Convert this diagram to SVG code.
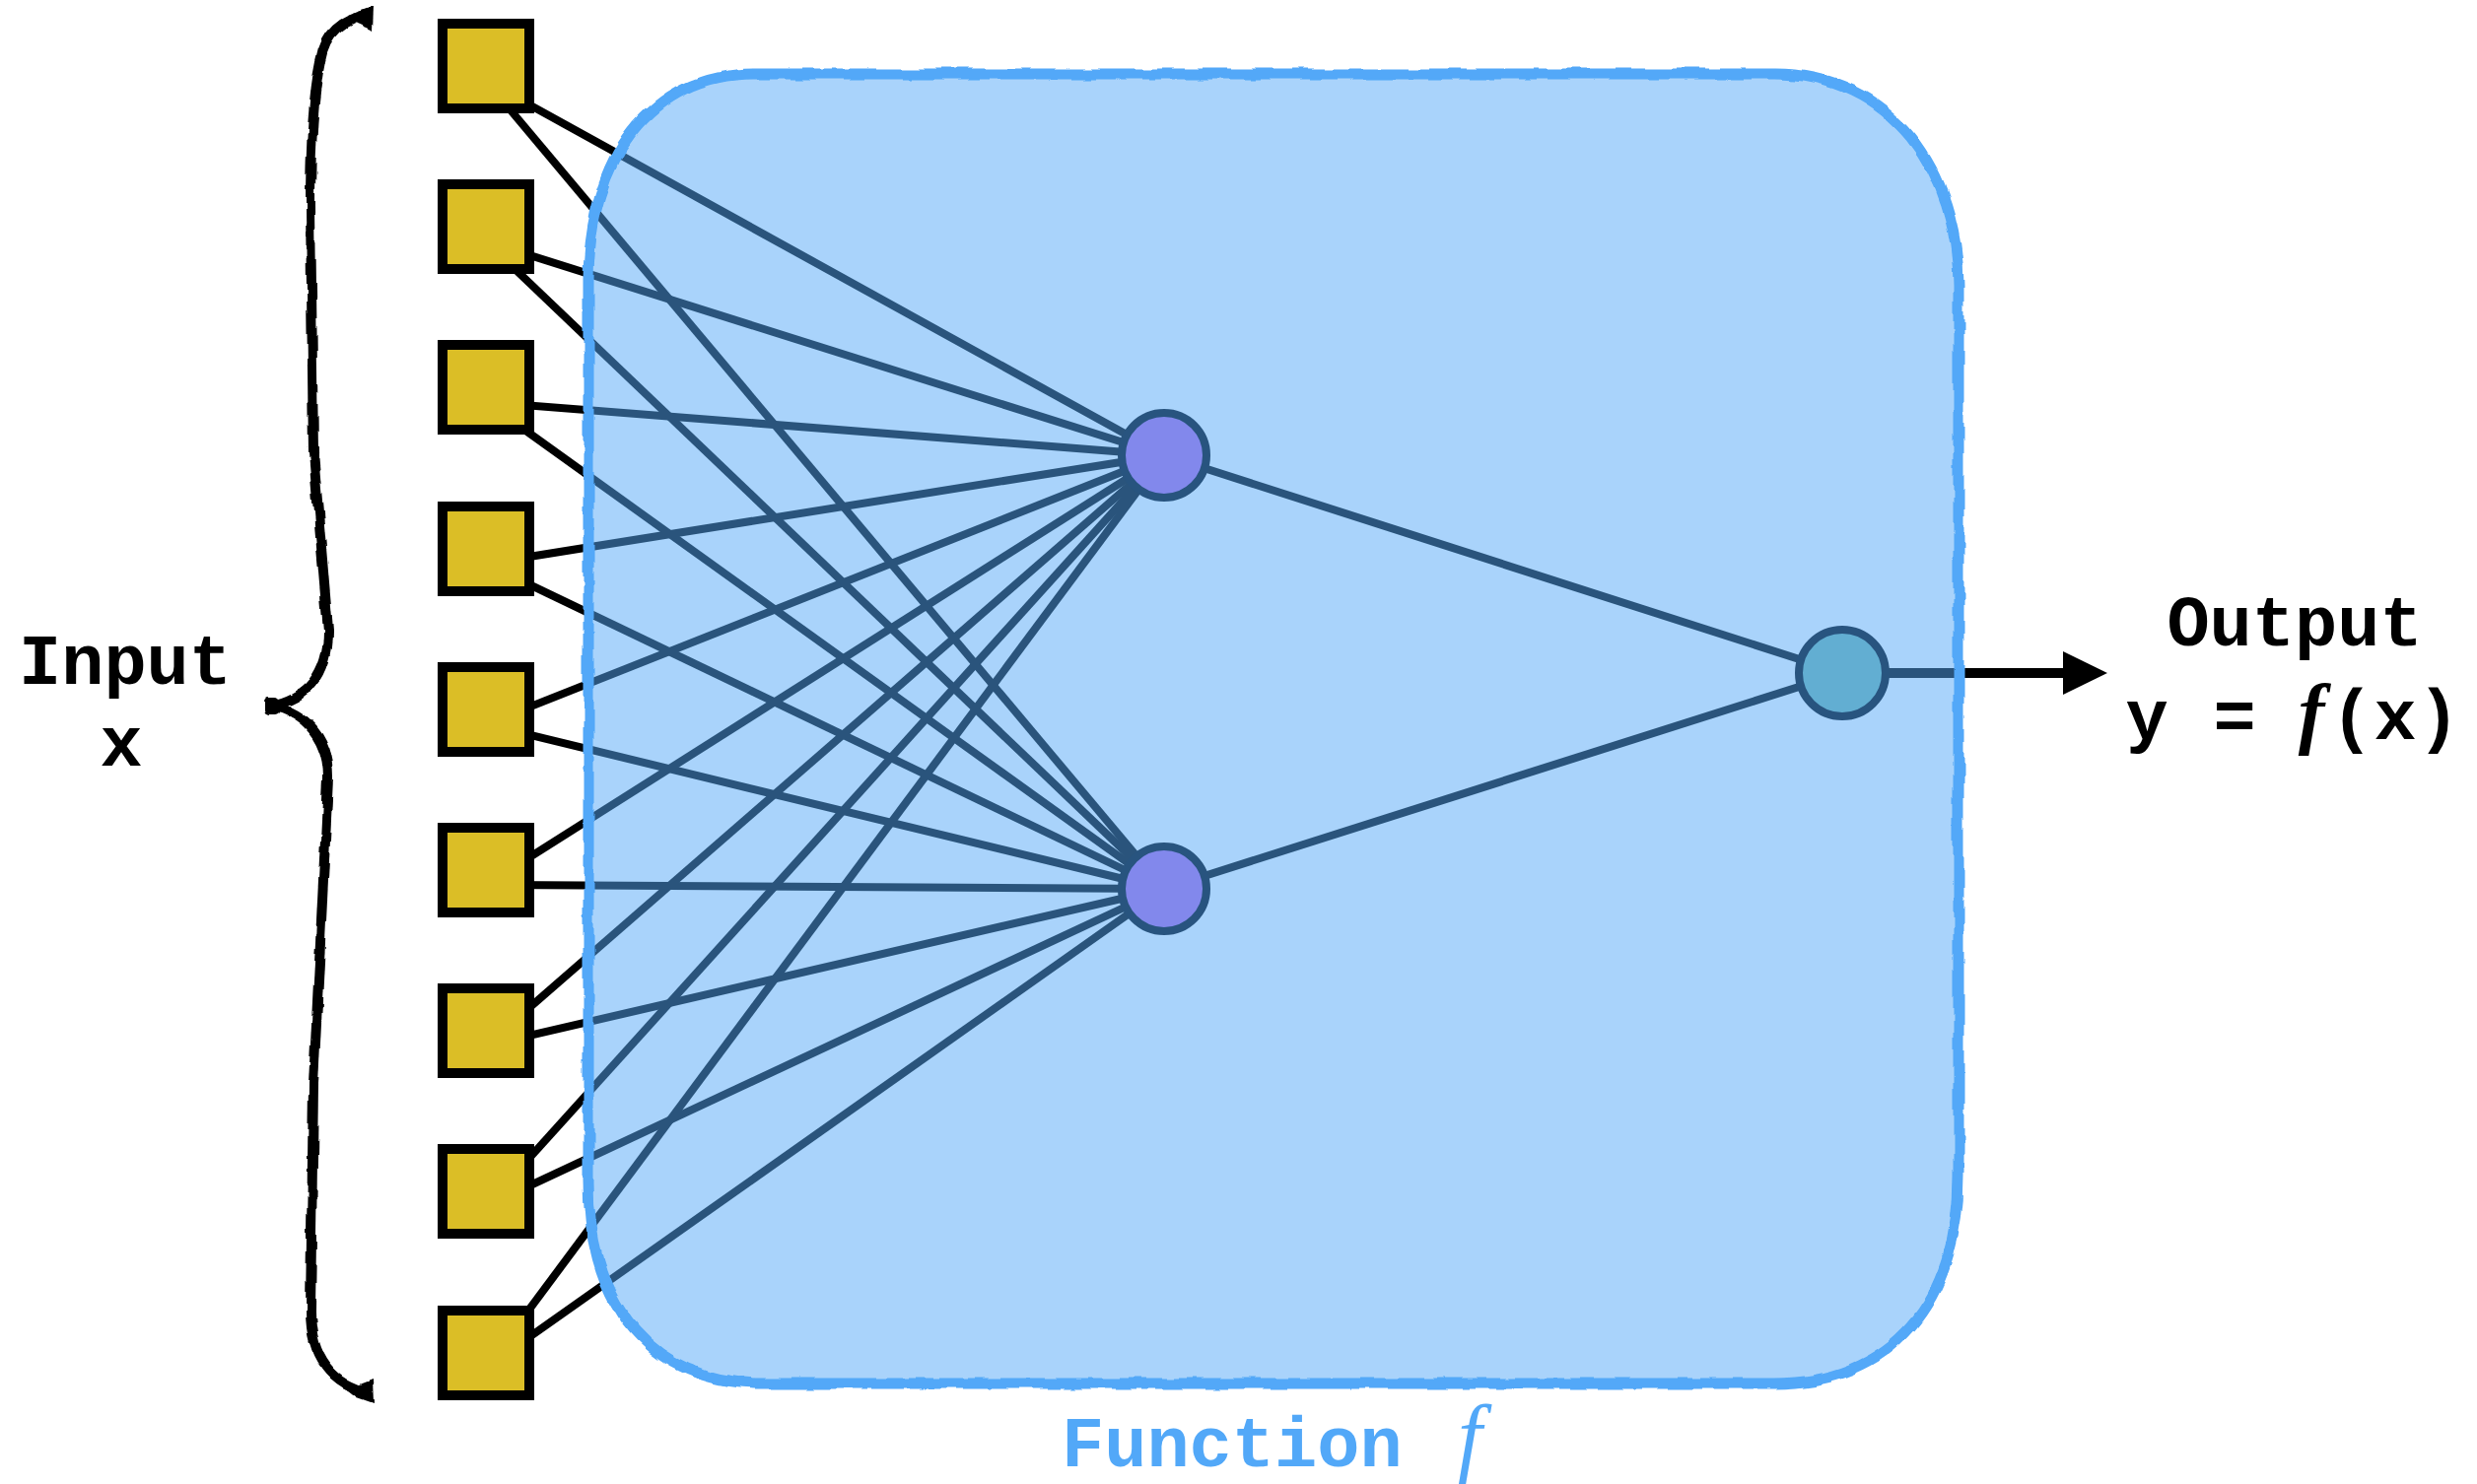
<svg xmlns="http://www.w3.org/2000/svg" width="2513" height="1506" viewBox="0 0 2513 1506">
  <defs>
    <style>
      .wire { stroke: #000; stroke-width: 8; fill: none; }
      .inp rect { fill: #DBBE26; stroke: #000; stroke-width: 10; }
      .hid circle { fill: #8288EC; stroke: #28547F; stroke-width: 8; }
      .out circle { fill: #62AED2; stroke: #28547F; stroke-width: 8; }
      .mono { font-family: "Courier New", "Liberation Mono", monospace; font-weight: bold; font-size: 72px; }
      .mathf { font-family: "Liberation Serif", "Times New Roman", serif; font-style: italic; }
    </style>
    <!-- slight hand-drawn wobble for the outline and the brace -->
    <filter id="rough" filterUnits="userSpaceOnUse" x="0" y="0" width="2513" height="1506">
      <feTurbulence type="fractalNoise" baseFrequency="0.035" numOctaves="2" seed="7"/>
      <feDisplacementMap in="SourceGraphic" scale="7" xChannelSelector="R" yChannelSelector="G"/>
    </filter>
    <marker id="head" viewBox="0 0 45 44" markerUnits="userSpaceOnUse" markerWidth="45" markerHeight="44" refX="2" refY="22" orient="auto">
      <path d="M0,0 L45,22 L0,44 z" fill="#000"/>
    </marker>
  </defs>

  <rect width="2513" height="1506" fill="#fff"/>

  <!-- connectors: drawn black; the translucent function box tints them where it covers them -->
  <g id="connectors" class="wire">
    <line x1="493" y1="82" x2="1181" y2="462"/>
    <line x1="493" y1="82" x2="1181" y2="902"/>
    <line x1="493" y1="245" x2="1181" y2="462"/>
    <line x1="493" y1="245" x2="1181" y2="902"/>
    <line x1="493" y1="408" x2="1181" y2="462"/>
    <line x1="493" y1="408" x2="1181" y2="902"/>
    <line x1="493" y1="572" x2="1181" y2="462"/>
    <line x1="493" y1="572" x2="1181" y2="902"/>
    <line x1="493" y1="735" x2="1181" y2="462"/>
    <line x1="493" y1="735" x2="1181" y2="902"/>
    <line x1="493" y1="898" x2="1181" y2="462"/>
    <line x1="493" y1="898" x2="1181" y2="902"/>
    <line x1="493" y1="1061" x2="1181" y2="462"/>
    <line x1="493" y1="1061" x2="1181" y2="902"/>
    <line x1="493" y1="1224" x2="1181" y2="462"/>
    <line x1="493" y1="1224" x2="1181" y2="902"/>
    <line x1="493" y1="1388" x2="1181" y2="462"/>
    <line x1="493" y1="1388" x2="1181" y2="902"/>
    <line x1="1181" y1="462" x2="1869" y2="683"/>
    <line x1="1181" y1="902" x2="1869" y2="683"/>
    <line x1="1869" y1="683" x2="2095" y2="683" stroke-width="10" marker-end="url(#head)"/>
  </g>

  <!-- input units -->
  <g id="input-nodes" class="inp">
    <g id="x1"><rect x="449" y="24" width="88" height="86"/></g>
    <g id="x2"><rect x="449" y="187" width="88" height="86"/></g>
    <g id="x3"><rect x="449" y="350" width="88" height="86"/></g>
    <g id="x4"><rect x="449" y="514" width="88" height="86"/></g>
    <g id="x5"><rect x="449" y="677" width="88" height="86"/></g>
    <g id="x6"><rect x="449" y="840" width="88" height="86"/></g>
    <g id="x7"><rect x="449" y="1003" width="88" height="86"/></g>
    <g id="x8"><rect x="449" y="1166" width="88" height="86"/></g>
    <g id="x9"><rect x="449" y="1330" width="88" height="86"/></g>
  </g>

  <!-- function f: translucent blue box with a wobbly outline -->
  <g id="function-box" filter="url(#rough)">
    <path d="M597,285 C597,160 660,75 765,75 L1800,75 C1920,75 1987,175 1987,290 L1987,1195 C1987,1320 1920,1404 1800,1404 L775,1404 C665,1404 597,1330 597,1200 Z"
          fill="#52A8F8" fill-opacity="0.5" stroke="#52A8F8" stroke-width="11" stroke-linejoin="round"/>
  </g>

  <!-- hidden units -->
  <g id="h1" class="hid"><circle cx="1181" cy="462" r="43"/></g>
  <g id="h2" class="hid"><circle cx="1181" cy="902" r="43"/></g>

  <!-- output unit -->
  <g id="y-out" class="out"><circle cx="1869" cy="683" r="44"/></g>

  <!-- curly brace grouping the inputs -->
  <g id="brace" filter="url(#rough)">
    <path d="M377,14 C350,18 330,32 325,62 C318,95 315,140 315,210 L318,460 L333,640 C333,685 310,710 275,716 C310,724 333,748 333,790 L318,1100 L315,1330 C315,1380 338,1405 377,1414"
          fill="none" stroke="#000" stroke-width="10" stroke-linejoin="round"/>
    <path d="M352,16 L379,7 L378,31 L362,24 Z" fill="#000"/>
    <path d="M352,1410 L378,1400 L379,1424 L362,1418 Z" fill="#000"/>
    <rect x="268" y="707" width="16" height="19" rx="5" fill="#000"/>
  </g>

  <!-- labels -->
  <g id="label-input" class="mono" fill="#000" text-anchor="middle">
    <text x="127" y="694">Input</text>
    <text x="123" y="777">x</text>
  </g>
  <g id="label-output" fill="#000">
    <text class="mono" x="2328" y="655" text-anchor="middle">Output</text>
    <text class="mono" y="750" text-anchor="middle"><tspan x="2178">y</tspan><tspan x="2267">=</tspan><tspan x="2345" class="mathf" font-size="80">f</tspan><tspan x="2386">(</tspan><tspan x="2430">x</tspan><tspan x="2474">)</tspan></text>
  </g>
  <g id="label-function" fill="#52A8F8">
    <text class="mono" y="1488" font-size="74px"><tspan x="1077">Function</tspan><tspan x="1479" y="1487" class="mathf" font-weight="normal" font-size="88">f</tspan></text>
  </g>
</svg>
